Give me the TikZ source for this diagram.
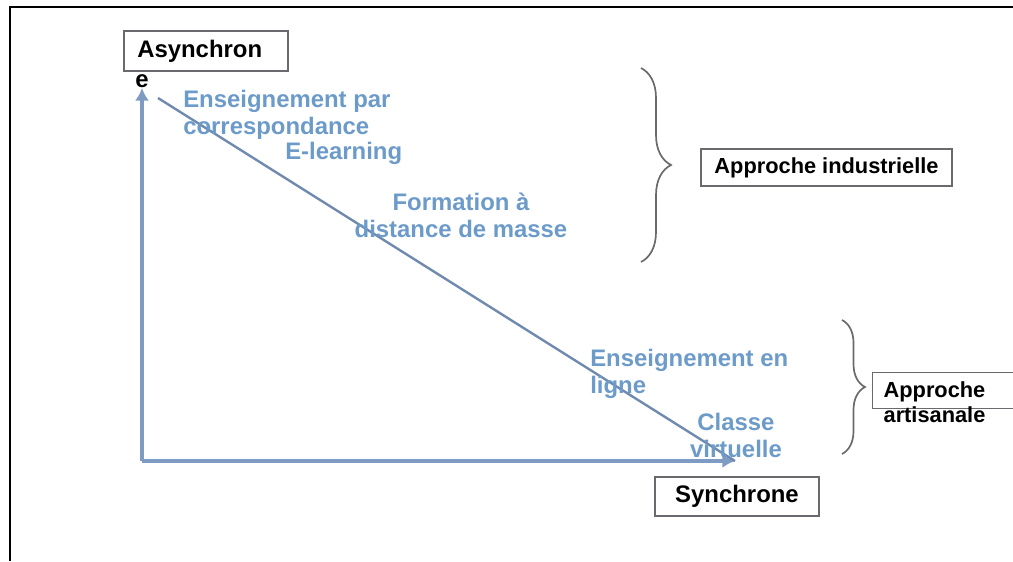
\documentclass[tikz,border=0pt]{standalone}
\usepackage{fontspec}
\setmainfont{Liberation Sans}
\usetikzlibrary{arrows.meta,decorations.pathreplacing}

\definecolor{axisblue}{RGB}{125,155,195}
\definecolor{lineblue}{RGB}{112,138,175}
\definecolor{textblue}{RGB}{108,155,202}
\definecolor{framegray}{RGB}{105,105,110}

\tikzset{
  labelbox/.style={draw=framegray, line width=0.9pt, font=\bfseries\fontsize{17}{19}\selectfont, inner sep=0pt},
  sidebox/.style={draw=framegray, line width=0.9pt, font=\bfseries\fontsize{15.5}{18}\selectfont, inner sep=0pt},
  bluetext/.style={text=textblue, font=\bfseries\fontsize{17}{19}\selectfont, inner sep=0pt},
  axis/.style={axisblue, line width=2.6pt, -{Latex[length=9pt,width=10pt]}},
  bracket/.style={framegray, line width=1.2pt, decorate, decoration={brace, amplitude=#1}},
}

\begin{document}
\begin{tikzpicture}[x=0.025cm, y=-0.025cm]
\useasboundingbox (0,0) rectangle (1013,561);
\clip (0,0) rectangle (1013,561);
\draw[line width=1.3pt] (10,561) -- (10,7) -- (1013,7);

% axes
\coordinate (orig) at (142,461);
\coordinate (ytip) at (142,88);
\coordinate (xtip) at (735,461);
\coordinate (dstart) at (158,98);
\draw[axis] (orig) -- (ytip);
\draw[axis] (orig) -- (xtip);
\draw[lineblue, line width=1.7pt] (dstart) -- (xtip);

% axis labels
\node[labelbox, minimum width=4.1cm, minimum height=1cm] (asyn) at (206,51) {};
\node[font=\bfseries\fontsize{17}{19}\selectfont, inner sep=0pt, anchor=west] (asyntxt) at (137,51) {Asynchron};
\node[font=\bfseries\fontsize{17}{19}\selectfont, inner sep=0pt] (asyne) at (142,81) {e};
\node[labelbox, minimum width=4.1cm, minimum height=0.975cm] (syn) at (737,496.5) {Synchrone};

% modes
\node[bluetext, align=left, anchor=north west] (corresp) at (183,90) {Enseignement par\\correspondance};
\node[bluetext, anchor=north west] (elearn) at (285,142) {E-learning};
\node[bluetext, align=center, anchor=north] (masse) at (461,193) {Formation à\\distance de masse};
\node[bluetext, align=left, anchor=north west] (enligne) at (590,349) {Enseignement en\\ligne};
\node[bluetext, align=center, anchor=north] (virt) at (736,413) {Classe\\virtuelle};

% approaches
\coordinate (btop) at (641,68);
\coordinate (bbot) at (641,262);
\draw[bracket=0.75cm] (btop) -- (bbot);
\node[sidebox, minimum width=6.275cm, minimum height=0.925cm] (indus) at (826.5,167.5) {Approche industrielle};

\coordinate (ctop) at (842,320);
\coordinate (cbot) at (842,454);
\draw[bracket=0.575cm] (ctop) -- (cbot);
\node[sidebox, minimum width=4cm, minimum height=0.9cm, anchor=north west] (artis) at (872,372) {};
\node[sidebox, draw=none, align=left, anchor=north west] (artistxt) at (883,381) {Approche\\artisanale};
\end{tikzpicture}
\end{document}
